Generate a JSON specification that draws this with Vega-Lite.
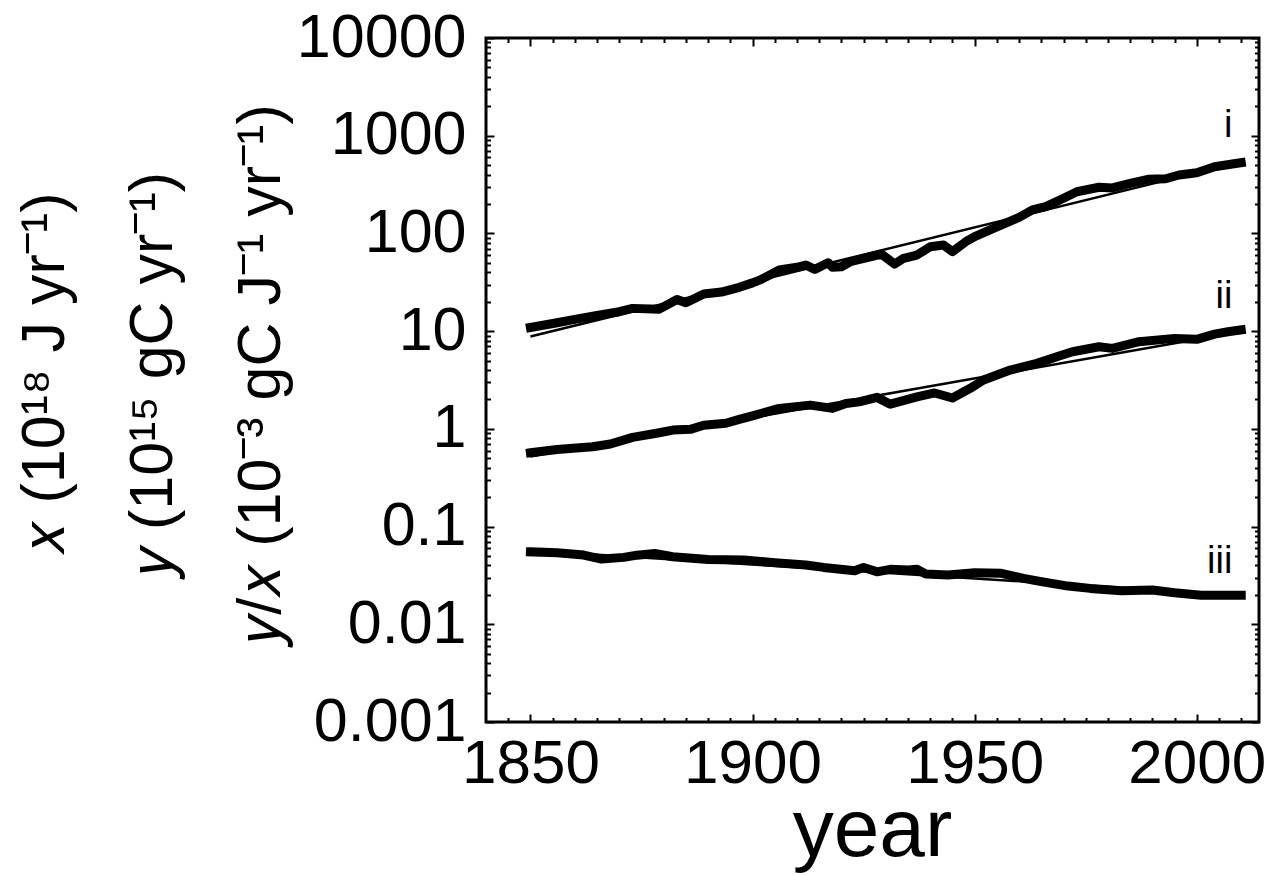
{
  "$schema": "https://vega.github.io/schema/vega-lite/v6.json",
  "width": 773,
  "height": 684,
  "autosize": "none",
  "padding": {"left": 486, "top": 38, "right": 10, "bottom": 153},
  "background": "white",
  "config": {
    "view": {"stroke": "black", "strokeWidth": 3},
    "axis": {
      "domain": false, "grid": false, "tickColor": "black", "tickWidth": 2,
      "labelFont": "Liberation Sans", "labelColor": "black",
      "titleFont": "Liberation Sans", "titleColor": "black", "titleFontWeight": "normal"
    }
  },
  "datasets": {
    "series": [
      {"series": "i", "year": 1850, "value": 10.9},
      {"series": "i", "year": 1856, "value": 12.2},
      {"series": "i", "year": 1860, "value": 13.2},
      {"series": "i", "year": 1865, "value": 14.5},
      {"series": "i", "year": 1870, "value": 15.8},
      {"series": "i", "year": 1873, "value": 17.1},
      {"series": "i", "year": 1879, "value": 16.8},
      {"series": "i", "year": 1883, "value": 21.1},
      {"series": "i", "year": 1885, "value": 19.5},
      {"series": "i", "year": 1889, "value": 24},
      {"series": "i", "year": 1893, "value": 25.1},
      {"series": "i", "year": 1897, "value": 28.1},
      {"series": "i", "year": 1900, "value": 31.2},
      {"series": "i", "year": 1902, "value": 33.9},
      {"series": "i", "year": 1906, "value": 42.2},
      {"series": "i", "year": 1910, "value": 45},
      {"series": "i", "year": 1912, "value": 47.5},
      {"series": "i", "year": 1914, "value": 42.9},
      {"series": "i", "year": 1917, "value": 50.1},
      {"series": "i", "year": 1918, "value": 45},
      {"series": "i", "year": 1920, "value": 45.6},
      {"series": "i", "year": 1922, "value": 51.3},
      {"series": "i", "year": 1926, "value": 56.9},
      {"series": "i", "year": 1929, "value": 61.5},
      {"series": "i", "year": 1932, "value": 48.6},
      {"series": "i", "year": 1934, "value": 55.6},
      {"series": "i", "year": 1937, "value": 60.1},
      {"series": "i", "year": 1940, "value": 73.1},
      {"series": "i", "year": 1943, "value": 76},
      {"series": "i", "year": 1945, "value": 65},
      {"series": "i", "year": 1948, "value": 82.2},
      {"series": "i", "year": 1950, "value": 93},
      {"series": "i", "year": 1955, "value": 117},
      {"series": "i", "year": 1960, "value": 146},
      {"series": "i", "year": 1963, "value": 174},
      {"series": "i", "year": 1966, "value": 188},
      {"series": "i", "year": 1970, "value": 229},
      {"series": "i", "year": 1973, "value": 267},
      {"series": "i", "year": 1978, "value": 297},
      {"series": "i", "year": 1981, "value": 292},
      {"series": "i", "year": 1985, "value": 326},
      {"series": "i", "year": 1989, "value": 358},
      {"series": "i", "year": 1993, "value": 363},
      {"series": "i", "year": 1996, "value": 396},
      {"series": "i", "year": 2000, "value": 418},
      {"series": "i", "year": 2004, "value": 482},
      {"series": "i", "year": 2008, "value": 513},
      {"series": "i", "year": 2010, "value": 530},
      {"series": "ii", "year": 1850, "value": 0.569},
      {"series": "ii", "year": 1856, "value": 0.616},
      {"series": "ii", "year": 1864, "value": 0.656},
      {"series": "ii", "year": 1868, "value": 0.699},
      {"series": "ii", "year": 1873, "value": 0.818},
      {"series": "ii", "year": 1879, "value": 0.912},
      {"series": "ii", "year": 1882, "value": 0.972},
      {"series": "ii", "year": 1886, "value": 0.988},
      {"series": "ii", "year": 1889, "value": 1.09},
      {"series": "ii", "year": 1894, "value": 1.14},
      {"series": "ii", "year": 1897, "value": 1.25},
      {"series": "ii", "year": 1900, "value": 1.36},
      {"series": "ii", "year": 1906, "value": 1.62},
      {"series": "ii", "year": 1913, "value": 1.75},
      {"series": "ii", "year": 1918, "value": 1.62},
      {"series": "ii", "year": 1921, "value": 1.82},
      {"series": "ii", "year": 1924, "value": 1.89},
      {"series": "ii", "year": 1928, "value": 2.10},
      {"series": "ii", "year": 1931, "value": 1.79},
      {"series": "ii", "year": 1937, "value": 2.12},
      {"series": "ii", "year": 1941, "value": 2.33},
      {"series": "ii", "year": 1945, "value": 2.07},
      {"series": "ii", "year": 1949, "value": 2.60},
      {"series": "ii", "year": 1952, "value": 3.16},
      {"series": "ii", "year": 1958, "value": 4.00},
      {"series": "ii", "year": 1964, "value": 4.68},
      {"series": "ii", "year": 1969, "value": 5.56},
      {"series": "ii", "year": 1972, "value": 6.15},
      {"series": "ii", "year": 1978, "value": 6.92},
      {"series": "ii", "year": 1981, "value": 6.66},
      {"series": "ii", "year": 1987, "value": 7.79},
      {"series": "ii", "year": 1995, "value": 8.43},
      {"series": "ii", "year": 2000, "value": 8.24},
      {"series": "ii", "year": 2004, "value": 9.33},
      {"series": "ii", "year": 2007, "value": 9.86},
      {"series": "ii", "year": 2010, "value": 10.3},
      {"series": "iii", "year": 1850, "value": 0.0552},
      {"series": "iii", "year": 1856, "value": 0.0540},
      {"series": "iii", "year": 1862, "value": 0.0511},
      {"series": "iii", "year": 1866, "value": 0.0465},
      {"series": "iii", "year": 1871, "value": 0.0484},
      {"series": "iii", "year": 1874, "value": 0.0510},
      {"series": "iii", "year": 1878, "value": 0.0531},
      {"series": "iii", "year": 1882, "value": 0.0491},
      {"series": "iii", "year": 1890, "value": 0.0461},
      {"series": "iii", "year": 1898, "value": 0.0454},
      {"series": "iii", "year": 1905, "value": 0.0427},
      {"series": "iii", "year": 1912, "value": 0.0404},
      {"series": "iii", "year": 1916, "value": 0.0382},
      {"series": "iii", "year": 1923, "value": 0.0353},
      {"series": "iii", "year": 1925, "value": 0.0382},
      {"series": "iii", "year": 1928, "value": 0.0344},
      {"series": "iii", "year": 1931, "value": 0.0365},
      {"series": "iii", "year": 1935, "value": 0.0359},
      {"series": "iii", "year": 1937, "value": 0.0365},
      {"series": "iii", "year": 1939, "value": 0.0327},
      {"series": "iii", "year": 1944, "value": 0.0319},
      {"series": "iii", "year": 1950, "value": 0.0337},
      {"series": "iii", "year": 1956, "value": 0.0332},
      {"series": "iii", "year": 1961, "value": 0.0295},
      {"series": "iii", "year": 1965, "value": 0.0273},
      {"series": "iii", "year": 1971, "value": 0.0246},
      {"series": "iii", "year": 1976, "value": 0.0233},
      {"series": "iii", "year": 1983, "value": 0.0220},
      {"series": "iii", "year": 1990, "value": 0.0224},
      {"series": "iii", "year": 1995, "value": 0.0210},
      {"series": "iii", "year": 2001, "value": 0.0198},
      {"series": "iii", "year": 2010, "value": 0.0198}
    ],
    "fits": [
      {"series": "i", "year": 1850, "value": 8.8},
      {"series": "i", "year": 2010, "value": 540},
      {"series": "ii", "year": 1850, "value": 0.52},
      {"series": "ii", "year": 2010, "value": 9.9},
      {"series": "iii", "year": 1850, "value": 0.057},
      {"series": "iii", "year": 2010, "value": 0.0198}
    ],
    "labels": [
      {"label": "i", "year": 2008, "value": 970},
      {"label": "ii", "year": 2008, "value": 17.2},
      {"label": "iii", "year": 2008, "value": 0.0334}
    ]
  },
  "resolve": {"axis": {"x": "independent", "y": "independent"}},
  "layer": [
    {
      "data": {"name": "series"},
      "transform": [{"filter": "datum.series !== 'iii'"}],
      "mark": {"type": "line", "color": "black", "strokeWidth": 9, "strokeCap": "square", "strokeJoin": "round"},
      "encoding": {
        "x": {"field": "year", "type": "quantitative",
          "scale": {"domain": [1840, 2014], "nice": false, "zero": false},
          "axis": {"orient": "bottom", "values": [1850, 1900, 1950, 2000], "format": "d",
            "tickSize": -8, "labelPadding": 19, "labelFontSize": 62, "labelFlush": false, "labelOverlap": false,
            "title": "year", "titleFontSize": 82, "titleX": 386, "titleY": 133,
            "titleAlign": "center", "titleBaseline": "alphabetic"}},
        "y": {"field": "value", "type": "quantitative",
          "scale": {"type": "log", "domain": [0.001, 10000], "nice": false},
          "axis": {"orient": "left", "values": [0.001, 0.01, 0.1, 1, 10, 100, 1000, 10000], "format": "~g",
            "tickSize": -8, "labelPadding": 28, "labelFontSize": 61, "labelFlush": false, "labelOverlap": false,
            "title": ["𝑥 (10¹⁸ J yr⁻¹)", "𝑦 (10¹⁵ gC yr⁻¹)", "𝑦/𝑥 (10⁻³ gC J⁻¹ yr⁻¹)"],
            "titleFontSize": 61, "titleLineHeight": 108, "titleAngle": 270,
            "titleX": -441, "titleY": 335, "titleAlign": "center", "titleBaseline": "middle"}},
        "detail": {"field": "series"}
      }
    },
    {
      "data": {"name": "series"},
      "transform": [{"filter": "datum.series === 'iii'"}],
      "mark": {"type": "line", "color": "black", "strokeWidth": 9, "strokeCap": "square", "strokeJoin": "round"},
      "encoding": {
        "x": {"field": "year", "type": "quantitative",
          "scale": {"domain": [1840, 2014], "nice": false, "zero": false},
          "axis": {"orient": "bottom", "values": [1845, 1855, 1860, 1865, 1870, 1875, 1880, 1885, 1890, 1895, 1905, 1910, 1915, 1920, 1925, 1930, 1935, 1940, 1945, 1955, 1960, 1965, 1970, 1975, 1980, 1985, 1990, 1995, 2005, 2010],
            "tickSize": -4.5, "labels": false, "title": null}},
        "y": {"field": "value", "type": "quantitative",
          "scale": {"type": "log", "domain": [0.001, 10000], "nice": false},
          "axis": {"orient": "left", "values": [0.002, 0.003, 0.004, 0.005, 0.006, 0.007, 0.008, 0.009, 0.02, 0.03, 0.04, 0.05, 0.06, 0.07, 0.08, 0.09, 0.2, 0.3, 0.4, 0.5, 0.6, 0.7, 0.8, 0.9, 2, 3, 4, 5, 6, 7, 8, 9, 20, 30, 40, 50, 60, 70, 80, 90, 200, 300, 400, 500, 600, 700, 800, 900, 2000, 3000, 4000, 5000, 6000, 7000, 8000, 9000],
            "tickSize": -4.5, "labels": false, "title": null}}
      }
    },
    {
      "data": {"name": "fits"},
      "mark": {"type": "line", "color": "black", "strokeWidth": 2.5},
      "encoding": {
        "x": {"field": "year", "type": "quantitative",
          "scale": {"domain": [1840, 2014], "nice": false, "zero": false},
          "axis": {"orient": "top", "values": [1850, 1900, 1950, 2000], "tickSize": -8, "labels": false, "title": null}},
        "y": {"field": "value", "type": "quantitative",
          "scale": {"type": "log", "domain": [0.001, 10000], "nice": false},
          "axis": {"orient": "right", "values": [0.001, 0.01, 0.1, 1, 10, 100, 1000, 10000], "tickSize": -8, "labels": false, "title": null}},
        "detail": {"field": "series"}
      }
    },
    {
      "data": {"name": "labels"},
      "mark": {"type": "text", "color": "black", "font": "Liberation Sans", "fontSize": 38, "align": "right", "baseline": "alphabetic"},
      "encoding": {
        "x": {"field": "year", "type": "quantitative",
          "scale": {"domain": [1840, 2014], "nice": false, "zero": false},
          "axis": {"orient": "top", "values": [1845, 1855, 1860, 1865, 1870, 1875, 1880, 1885, 1890, 1895, 1905, 1910, 1915, 1920, 1925, 1930, 1935, 1940, 1945, 1955, 1960, 1965, 1970, 1975, 1980, 1985, 1990, 1995, 2005, 2010],
            "tickSize": -4.5, "labels": false, "title": null}},
        "y": {"field": "value", "type": "quantitative",
          "scale": {"type": "log", "domain": [0.001, 10000], "nice": false},
          "axis": {"orient": "right", "values": [0.002, 0.003, 0.004, 0.005, 0.006, 0.007, 0.008, 0.009, 0.02, 0.03, 0.04, 0.05, 0.06, 0.07, 0.08, 0.09, 0.2, 0.3, 0.4, 0.5, 0.6, 0.7, 0.8, 0.9, 2, 3, 4, 5, 6, 7, 8, 9, 20, 30, 40, 50, 60, 70, 80, 90, 200, 300, 400, 500, 600, 700, 800, 900, 2000, 3000, 4000, 5000, 6000, 7000, 8000, 9000],
            "tickSize": -4.5, "labels": false, "title": null}},
        "text": {"field": "label"}
      }
    }
  ]
}
